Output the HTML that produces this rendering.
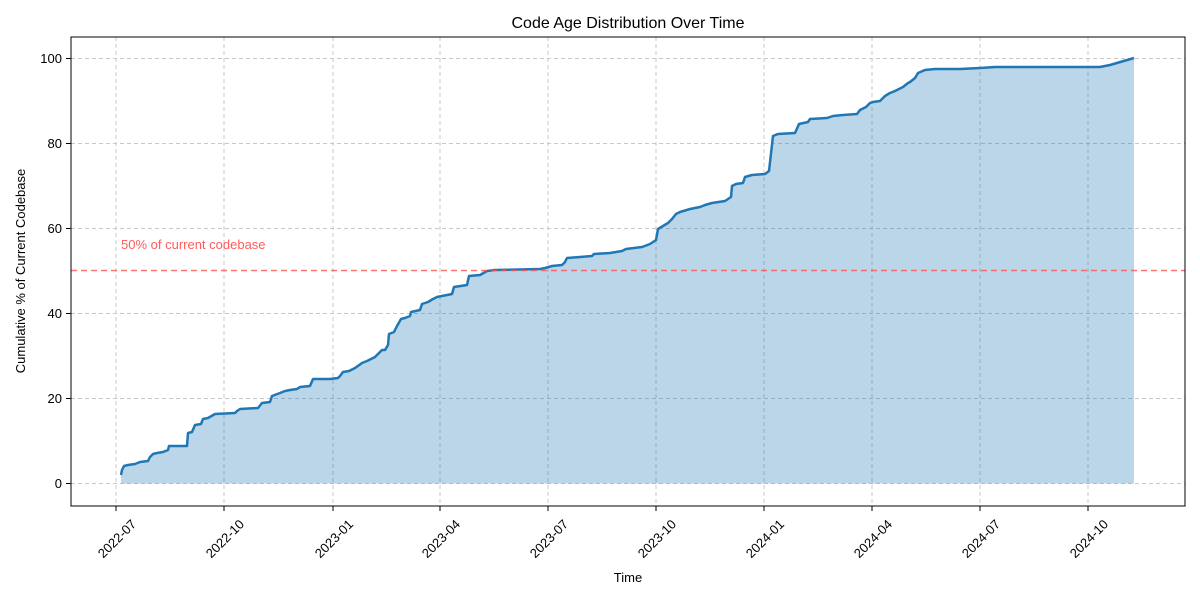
<!DOCTYPE html>
<html><head><style>body{margin:0;background:#fff}svg{display:block}text{font-family:"Liberation Sans","DejaVu Sans",sans-serif}</style></head><body>
<svg width="1200" height="600" viewBox="0 0 1200 600">
<g stroke="#c8c8c8" stroke-dasharray="4,3" stroke-width="1">
<line x1="116" y1="37" x2="116" y2="506"/><line x1="224" y1="37" x2="224" y2="506"/><line x1="333" y1="37" x2="333" y2="506"/><line x1="440" y1="37" x2="440" y2="506"/><line x1="548" y1="37" x2="548" y2="506"/><line x1="656" y1="37" x2="656" y2="506"/><line x1="764" y1="37" x2="764" y2="506"/><line x1="872" y1="37" x2="872" y2="506"/><line x1="980" y1="37" x2="980" y2="506"/><line x1="1088" y1="37" x2="1088" y2="506"/>
<line x1="71" y1="483.5" x2="1185" y2="483.5"/><line x1="71" y1="398.5" x2="1185" y2="398.5"/><line x1="71" y1="313.5" x2="1185" y2="313.5"/><line x1="71" y1="228.5" x2="1185" y2="228.5"/><line x1="71" y1="143.5" x2="1185" y2="143.5"/><line x1="71" y1="58.5" x2="1185" y2="58.5"/>
</g>
<polygon fill="#1f77b4" fill-opacity="0.3" points="121,483.5 121,475 122,470 124,466 128,465 135,464 140,462 148,461 150,457 153,454 157,453 163,452 168,450 169,446 187,446 188,433 192,432 195,425 201,424 203,419 208,418 215,414 235,413 237,411 240,409 258,408 262,403 270,402 272,396 280,393 285,391 290,390 297,389 300,387 310,386 313,379 330,379 338,378 340,376 343,372 349,371 355,368 362,363 367,361 375,357 378,354 382,350 385,350 388,345 389,334 394,332 397,326 401,319 405,318 410,316 411,312 420,310 422,304 428,302 433,299 437,297 447,295 452,294 454,287 467,285 469,276 480,275 487,271 495,270 540,269 545,268 552,266 562,265 565,262 567,258 580,257 592,256 594,254 610,253 622,251 626,249 642,247 650,244 656,240 658,229 668,223 672,219 676,214 680,212 690,209 700,207 705,205 712,203 725,201 728,199 731,197 732,186 736,184 743,183 745,177 752,175 765,174 769,171 773,136 778,134 795,133 799,124 808,122 810,119 827,118 833,116 843,115 857,114 860,110 866,107 870,103 873,102 880,101 885,96 890,93 895,91 903,87 908,83 910,82 915,78 918,73 925,70 935,69 960,69 980,68 995,67 1100,67 1110,65 1134,58 1134,483.5"/>
<polyline fill="none" stroke="#1f77b4" stroke-width="2.5" stroke-linejoin="round" points="121,475 122,470 124,466 128,465 135,464 140,462 148,461 150,457 153,454 157,453 163,452 168,450 169,446 187,446 188,433 192,432 195,425 201,424 203,419 208,418 215,414 235,413 237,411 240,409 258,408 262,403 270,402 272,396 280,393 285,391 290,390 297,389 300,387 310,386 313,379 330,379 338,378 340,376 343,372 349,371 355,368 362,363 367,361 375,357 378,354 382,350 385,350 388,345 389,334 394,332 397,326 401,319 405,318 410,316 411,312 420,310 422,304 428,302 433,299 437,297 447,295 452,294 454,287 467,285 469,276 480,275 487,271 495,270 540,269 545,268 552,266 562,265 565,262 567,258 580,257 592,256 594,254 610,253 622,251 626,249 642,247 650,244 656,240 658,229 668,223 672,219 676,214 680,212 690,209 700,207 705,205 712,203 725,201 728,199 731,197 732,186 736,184 743,183 745,177 752,175 765,174 769,171 773,136 778,134 795,133 799,124 808,122 810,119 827,118 833,116 843,115 857,114 860,110 866,107 870,103 873,102 880,101 885,96 890,93 895,91 903,87 908,83 910,82 915,78 918,73 925,70 935,69 960,69 980,68 995,67 1100,67 1110,65 1134,58"/>
<line x1="71" y1="270.5" x2="1185" y2="270.5" stroke="#ff5050" stroke-opacity="0.8" stroke-width="1.5" stroke-dasharray="6,4"/>
<text x="121" y="249" font-size="13" fill="#ff4040" fill-opacity="0.85">50% of current codebase</text>
<rect x="71" y="37" width="1114" height="469" fill="none" stroke="#000" stroke-width="1"/>
<g stroke="#000"><line x1="66" y1="483.5" x2="71" y2="483.5"/><line x1="66" y1="398.5" x2="71" y2="398.5"/><line x1="66" y1="313.5" x2="71" y2="313.5"/><line x1="66" y1="228.5" x2="71" y2="228.5"/><line x1="66" y1="143.5" x2="71" y2="143.5"/><line x1="66" y1="58.5" x2="71" y2="58.5"/>
<line x1="116" y1="506" x2="116" y2="511"/><line x1="224" y1="506" x2="224" y2="511"/><line x1="333" y1="506" x2="333" y2="511"/><line x1="440" y1="506" x2="440" y2="511"/><line x1="548" y1="506" x2="548" y2="511"/><line x1="656" y1="506" x2="656" y2="511"/><line x1="764" y1="506" x2="764" y2="511"/><line x1="872" y1="506" x2="872" y2="511"/><line x1="980" y1="506" x2="980" y2="511"/><line x1="1088" y1="506" x2="1088" y2="511"/></g>
<g font-size="13" text-anchor="end"><text x="62" y="488">0</text><text x="62" y="403">20</text><text x="62" y="318">40</text><text x="62" y="233">60</text><text x="62" y="148">80</text><text x="62" y="63">100</text></g>
<g font-size="13" text-anchor="end">
<text transform="translate(137,525) rotate(-45)">2022-07</text><text transform="translate(245,525) rotate(-45)">2022-10</text><text transform="translate(354,525) rotate(-45)">2023-01</text><text transform="translate(461,525) rotate(-45)">2023-04</text><text transform="translate(569,525) rotate(-45)">2023-07</text><text transform="translate(677,525) rotate(-45)">2023-10</text><text transform="translate(785,525) rotate(-45)">2024-01</text><text transform="translate(893,525) rotate(-45)">2024-04</text><text transform="translate(1001,525) rotate(-45)">2024-07</text><text transform="translate(1109,525) rotate(-45)">2024-10</text></g>
<text x="628" y="582" font-size="13" text-anchor="middle">Time</text>
<text transform="translate(25,271) rotate(-90)" font-size="13" text-anchor="middle">Cumulative % of Current Codebase</text>
<text x="628" y="28" font-size="16" text-anchor="middle">Code Age Distribution Over Time</text>
</svg></body></html>
